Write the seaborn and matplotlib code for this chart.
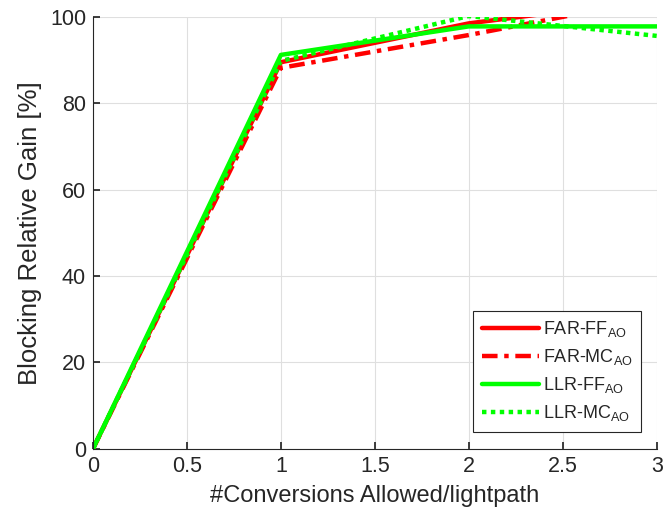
import numpy as np
import pandas as pd
import matplotlib
matplotlib.use('Agg')
import matplotlib.pyplot as plt
import seaborn as sns

# ==========================================
# 数据
# ==========================================
conversions = [0, 1, 2, 3]
far_ff = [0, 89.5, 98.5, 104.0]
far_mc = [0, 88.2, 95.8, 104.2]
llr_ff = [0, 91.2, 97.8, 97.8]
llr_mc = [0, 89.8, 100.2, 95.6]

series_names = ['FAR-FF$_{AO}$', 'FAR-MC$_{AO}$', 'LLR-FF$_{AO}$', 'LLR-MC$_{AO}$']

df = pd.DataFrame({
    'x': conversions * 4,
    'y': far_ff + far_mc + llr_ff + llr_mc,
    'series': np.repeat(series_names, len(conversions)),
})

# ==========================================
# 样式
# ==========================================
sns.set_theme(style="whitegrid")
plt.rcParams['font.family'] = ['Liberation Sans', 'DejaVu Sans']
plt.rcParams['mathtext.default'] = 'regular'

fig = plt.figure(figsize=(6.64, 5.28), dpi=100)
ax = fig.add_axes([0.140, 0.150, 0.849, 0.818])

styles = {
    series_names[0]: dict(color='#ff0000', linestyle='-'),
    series_names[1]: dict(color='#ff0000', dashes=(3.5, 1.5, 1, 1.5)),
    series_names[2]: dict(color='#00ff00', linestyle='-'),
    series_names[3]: dict(color='#00ff00', linestyle=(0, (1, 1))),
}

for name in series_names:
    sub = df[df['series'] == name]
    st = styles[name]
    line_kw = {k: v for k, v in st.items() if k != 'color'}
    sns.lineplot(data=sub, x='x', y='y', ax=ax, color=st['color'], lw=3.2,
                 label=name, **line_kw)

ax.set_xlim(0, 3)
ax.set_ylim(0, 100)
ax.set_xticks([0, 0.5, 1, 1.5, 2, 2.5, 3])
ax.set_xticklabels(['0', '0.5', '1', '1.5', '2', '2.5', '3'])
ax.set_yticks([0, 20, 40, 60, 80, 100])
ax.set_xlabel('#Conversions Allowed/lightpath', fontsize=17, color='#262626',
              labelpad=6)
ax.set_ylabel('Blocking Relative Gain [%]', fontsize=18.5, color='#262626',
              labelpad=6)
ax.tick_params(axis='both', labelsize=15.5, direction='in', length=5,
               colors='#262626', left=True, bottom=True, pad=5)

ax.set_facecolor('white')
ax.grid(True, color='#dfdfdf', linewidth=0.8)
for side in ['top', 'right']:
    ax.spines[side].set_visible(False)
for side in ['left', 'bottom']:
    ax.spines[side].set_color('#262626')
    ax.spines[side].set_linewidth(0.8)

leg = ax.legend(loc='lower right', fontsize=13, frameon=True, fancybox=False,
                edgecolor='#262626', framealpha=1, handlelength=3.2,
                handletextpad=0.2, borderpad=0.45, labelspacing=0.45,
                borderaxespad=0, bbox_to_anchor=(0.972, 0.04))
leg.get_frame().set_linewidth(0.8)

fig.savefig('out.png', dpi=100)
